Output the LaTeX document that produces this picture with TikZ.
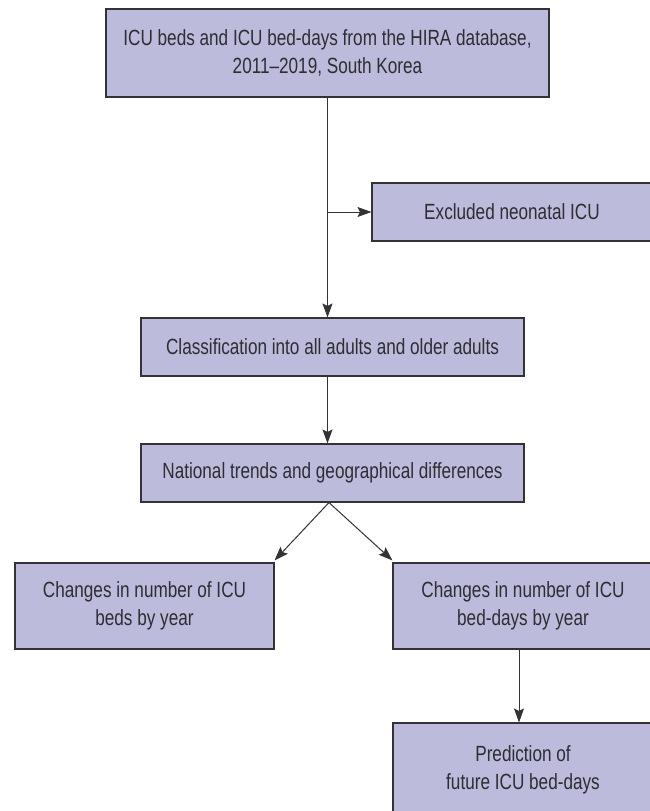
\documentclass[tikz,border=0pt]{standalone}
\usepackage{fontspec}
\setmainfont{Liberation Sans}[FakeStretch=0.78]
\usetikzlibrary{arrows.meta,calc}
\definecolor{boxfill}{RGB}{188,187,219}
\definecolor{boxline}{RGB}{50,50,55}
\definecolor{txt}{RGB}{45,45,50}
\tikzset{
  flowbox/.style={draw=boxline, line width=1.1pt, fill=boxfill, text=txt,
    align=center, inner sep=0pt, font=\fontsize{22}{27.5}\selectfont},
  arr/.style={draw=boxline, line width=1pt, -{Stealth[length=14pt,width=10pt,inset=2.5pt]}},
}
\begin{document}
\begin{tikzpicture}[x=1pt,y=-1pt]
\useasboundingbox (0,0) rectangle (650,811);
\clip (0,0) rectangle (650,811);
\node[flowbox, minimum width=443, minimum height=88] (b1) at (327.5,53)
  {ICU beds and ICU bed-days from the HIRA database,\\2011--2019, South Korea};
\node[flowbox, minimum width=280, minimum height=58] (ex) at (512,212)
  {Excluded neonatal ICU};
\node[flowbox, minimum width=383, minimum height=58] (b3) at (332.5,347)
  {Classification into all adults and older adults};
\node[flowbox, minimum width=383, minimum height=58] (b4) at (332.5,473)
  {National trends and geographical differences};
\node[flowbox, minimum width=259, minimum height=86] (lt) at (144.5,606)
  {Changes in number of ICU\\beds by year};
\node[flowbox, minimum width=260, minimum height=86] (rt) at (523,606)
  {Changes in number of ICU\\bed-days by year};
\node[flowbox, minimum width=260, minimum height=94] (pr) at (523,770)
  {Prediction of\\future ICU bed-days};
\draw[arr] (b1.south) -- (b1.south |- b3.north);
\draw[arr] (b1.south |- ex.west) -- (ex.west);
\draw[arr] ($(b3.south)+(-5,0)$) -- ($(b4.north)+(-5,0)$);
\draw[arr] ($(b4.south)+(-3.5,0)$) -- ($(lt.north east)+(0,-2)$);
\draw[arr] ($(b4.south)+(-3.5,0)$) -- ($(rt.north west)+(0,-2)$);
\draw[arr] ($(rt.south)+(-4,0)$) -- ($(pr.north)+(-4,0)$);
\end{tikzpicture}
\end{document}
